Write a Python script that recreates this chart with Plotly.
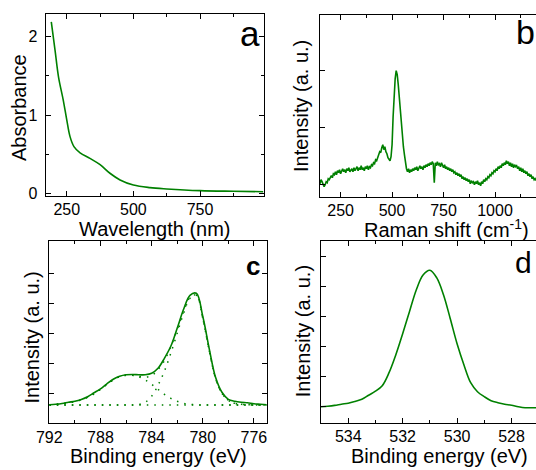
import plotly.graph_objects as go

GREEN = "rgb(0,128,0)"
FONT = "Arial, Liberation Sans, sans-serif"

# ---------- panel a : UV-vis absorbance ----------
wl = [192, 206, 219, 237, 250, 262, 277, 300, 337, 375, 412, 450, 500, 562, 625, 750, 875, 987]
absorb = [2.19, 1.83, 1.49, 1.19, 0.94, 0.73, 0.60, 0.52, 0.45, 0.37, 0.26, 0.175, 0.11, 0.077, 0.06, 0.038, 0.03, 0.025]

# ---------- panel b : Raman (150-1200 cm-1, 5 cm-1 step) ----------
raman_shift = list(range(150, 1201, 5))
raman_int = [13, 17, 15, 11, 10, 12, 15, 14, 18, 17, 19,
             21, 19, 23, 22, 25, 22, 26, 24, 27, 23, 26, 28, 25, 27, 24, 28, 26, 29, 25, 27,
             28, 25, 29, 26, 28, 30, 26, 29, 27, 31, 27, 29, 26, 30, 28, 31, 27, 30, 29, 32,
             31, 34, 33, 37, 36, 40, 42, 45, 44, 49, 52, 47, 50, 45, 43, 39, 38, 36, 40, 52,
             80, 102, 118, 126, 122, 112, 98, 86, 74, 62, 50, 42, 34, 28, 25, 28, 24, 27, 25, 28,
             26, 29, 27, 30, 26, 29, 31, 28, 30, 27, 31, 29, 32, 30, 33, 31, 34, 32, 35, 33,
             14, 34, 31, 35, 32, 33, 30, 34, 31, 29, 32, 28, 30, 27, 29, 26, 28, 25, 27, 24,
             25, 22, 24, 21, 23, 20, 22, 18, 20, 17, 19, 16, 18, 15, 17, 13, 16, 14, 15, 12,
             15, 13, 16, 12, 14, 11, 15, 13, 17, 15, 18, 17, 20, 19, 22, 21, 24, 23, 26, 25,
             28, 26, 30, 28, 31, 29, 33, 31, 34, 32, 36, 33, 35, 31, 34, 30, 33, 29, 32, 30,
             31, 28, 30, 26, 29, 25, 28, 24, 26, 23, 25, 21, 23, 20, 22, 18, 20, 17, 18, 16]

# ---------- panel c : XPS Co 2p3/2 ----------
be_c = [792, 791.5, 791, 790.5, 790, 789.5, 789, 788.5, 788, 787.5, 787, 786.5, 786, 785.5, 785, 784.5,
        784, 783.5, 783, 782.5, 782, 781.5, 781, 780.5, 780, 779.5, 779, 778.5, 778, 777.5, 777, 776.5,
        776, 775.5, 775]
int_c = [18.5, 19, 19.8, 21, 22, 23.8, 26.5, 30.5, 34.5, 39.5, 44, 47, 48.5, 48.8, 48.5, 48.5,
         50, 55, 65, 77, 95, 114, 128, 130, 107, 75, 46, 31, 24, 22, 21, 20.5,
         19.5, 19, 18.5]
peak_main = [18.3, 18.3, 18.3, 18.3, 18.3, 18.3, 18.3, 18.3, 18.3, 18.3, 18.3, 18.3, 18.3, 18.3, 18.8, 21,
             27, 38, 52, 70, 90, 110, 125, 128, 105, 73, 45, 30, 23, 20, 19, 18.6,
             18.3, 18.3, 18.3]
peak_sat = [18.5, 19, 19.6, 20.5, 21.5, 23.5, 26, 29.5, 34, 39, 43.5, 46.5, 48, 48, 46.5, 43.5,
            39, 34, 29, 25, 22, 20, 19, 18.5, 18.3, 18.3, 18.3, 18.3, 18.3, 18.3, 18.3, 18.3,
            18.3, 18.3, 18.3]
background_c = [18.3] * len(be_c)
envelope_c = [m + s - b for m, s, b in zip(peak_main, peak_sat, background_c)]

# ---------- panel d : XPS O 1s ----------
be_d = [535.0, 534.75, 534.5, 534.25, 534.0, 533.75, 533.5, 533.25, 533.0, 532.75, 532.5, 532.25, 532.0,
        531.75, 531.5, 531.25, 531.0, 530.75, 530.5, 530.25, 530.0, 529.75, 529.5, 529.25, 529.0, 528.75,
        528.5, 528.25, 528.0, 527.75, 527.5, 527.25, 527.0]
int_d = [16, 16.5, 17.3, 18.5, 19.5, 21.3, 23.5, 27.5, 31.5, 37, 50, 68, 89,
         111, 132.7, 147.7, 152.5, 145, 128, 104, 79, 58, 40, 31, 26, 22,
         20, 18.5, 17.5, 16, 15, 15, 15]

# ---------- tick labels ----------
ticks_a_x = [250, 500, 750]
minor_a_x = [375, 625, 875]
ticks_a_y = [0, 1, 2]
minor_a_y = [0.5, 1.5]
ticks_b_x = [250, 500, 750, 1000]
minor_b_x = [375, 625, 875, 1125]
ticks_b_y = [12, 69, 126, 183]
ticks_c_x = [792, 788, 784, 780, 776]
minor_c_x = [790, 786, 782, 778]
ticks_c_y = [30, 60, 90, 120, 150]
ticks_d_x = [534, 532, 530, 528]
minor_d_x = [533, 531, 529]
ticks_d_y = [16, 46, 76, 106, 136, 166]

W, H = 536, 470


def px_x(p):
    return p / W


def px_y(p):
    return 1 - p / H


def axis(domain, rng, anchor, tickvals, minorvals, labels=True, mirror="allticks", standoff=None):
    d = dict(domain=domain, range=rng, anchor=anchor, showline=True, linecolor="black", linewidth=1.3,
             mirror=mirror, ticks="inside", ticklen=5, tickwidth=1.2, tickcolor="black",
             tickvals=tickvals, showticklabels=labels, showgrid=False, zeroline=False, automargin=False,
             tickfont=dict(family=FONT, size=16, color="black"))
    if standoff is not None:
        d["ticklabelstandoff"] = standoff
    if minorvals:
        d["minor"] = dict(tickvals=minorvals, ticks="inside", ticklen=3, tickwidth=1.2,
                          tickcolor="black", showgrid=False)
    return d


fig = go.Figure()
dotted = dict(color=GREEN, width=1.5, dash="1.5px,6px")

fig.add_trace(go.Scatter(x=wl, y=absorb, mode="lines", line=dict(color=GREEN, width=1.6, shape="spline"),
                         xaxis="x", yaxis="y"))
fig.add_trace(go.Scatter(x=raman_shift, y=raman_int, mode="lines", line=dict(color=GREEN, width=1.6),
                         xaxis="x2", yaxis="y2"))
fig.add_trace(go.Scatter(x=be_c, y=background_c, mode="lines", line=dotted, xaxis="x3", yaxis="y3"))
fig.add_trace(go.Scatter(x=be_c, y=peak_main, mode="lines", line=dict(dotted, shape="spline"),
                         xaxis="x3", yaxis="y3"))
fig.add_trace(go.Scatter(x=be_c, y=peak_sat, mode="lines", line=dict(dotted, shape="spline"),
                         xaxis="x3", yaxis="y3"))
fig.add_trace(go.Scatter(x=be_c, y=envelope_c, mode="lines", line=dict(dotted, shape="spline"),
                         xaxis="x3", yaxis="y3"))
fig.add_trace(go.Scatter(x=be_c, y=int_c, mode="lines", line=dict(color=GREEN, width=1.6, shape="spline"),
                         xaxis="x3", yaxis="y3"))
fig.add_trace(go.Scatter(x=be_d, y=int_d, mode="lines", line=dict(color=GREEN, width=1.6, shape="spline"),
                         xaxis="x4", yaxis="y4"))

dom_a_x = [px_x(45.7), px_x(264)]
dom_a_y = [px_y(196), px_y(14)]
dom_b_x = [px_x(320), 1.0]
dom_b_y = [px_y(196.7), px_y(14.7)]
dom_c_x = [px_x(49.3), px_x(266.7)]
dom_c_y = [px_y(423.3), px_y(240.7)]
dom_d_x = [px_x(321), 1.0]
dom_d_y = [px_y(422.7), px_y(240.7)]

fig.update_layout(
    width=W, height=H, margin=dict(l=0, r=0, t=0, b=0, autoexpand=False),
    paper_bgcolor="white", plot_bgcolor="white", showlegend=False,
    font=dict(family=FONT, color="black"),
    xaxis=axis(dom_a_x, [171, 990], "y", ticks_a_x, minor_a_x, standoff=-1),
    yaxis=axis(dom_a_y, [-0.03, 2.29], "x", ticks_a_y, minor_a_y, standoff=4),
    xaxis2=axis(dom_b_x, [150, 1199], "y2", ticks_b_x, minor_b_x, standoff=-1),
    yaxis2=axis(dom_b_y, [0, 182], "x2", ticks_b_y, None, labels=False, mirror=False),
    xaxis3=axis(dom_c_x, [792, 775], "y3", ticks_c_x, minor_c_x, standoff=-1),
    yaxis3=axis(dom_c_y, [0, 182.6], "x3", ticks_c_y, None, labels=False),
    xaxis4=axis(dom_d_x, [535, 527.1], "y4", ticks_d_x, minor_d_x, standoff=-1),
    yaxis4=axis(dom_d_y, [0, 182], "x4", ticks_d_y, None, labels=False, mirror=False),
)


def note(text, x, y, size, angle=0, bold=False):
    fig.add_annotation(text=f"<b>{text}</b>" if bold else text, x=px_x(x), y=px_y(y), xref="paper",
                       yref="paper", showarrow=False, textangle=angle, xanchor="center", yanchor="middle",
                       font=dict(family=FONT, size=size, color="black"))


# axis titles
note("Wavelength (nm)", 155, 228.5, 20)
note("Raman shift (cm<sup>-1</sup>)", 446, 228.5, 20)
note("Binding energy (eV)", 158, 456, 20)
note("Binding energy (eV)", 439, 456, 20)
note("Absorbance", 19.5, 107.5, 20, angle=-90)
note("Intensity (a. u.)", 301, 106, 20, angle=-90)
note("Intensity (a. u.)", 31, 337.5, 20, angle=-90)
note("Intensity (a. u.)", 302.5, 331.7, 20, angle=-90)
# panel letters
note("a", 249.5, 33, 35)
note("b", 525, 32, 34)
note("c", 252.5, 266, 26, bold=True)
note("d", 523, 262, 30)

fig.write_html("out.html", config={"displayModeBar": False},
               post_script="document.body.style.margin='0px';document.body.style.overflow='hidden';")
